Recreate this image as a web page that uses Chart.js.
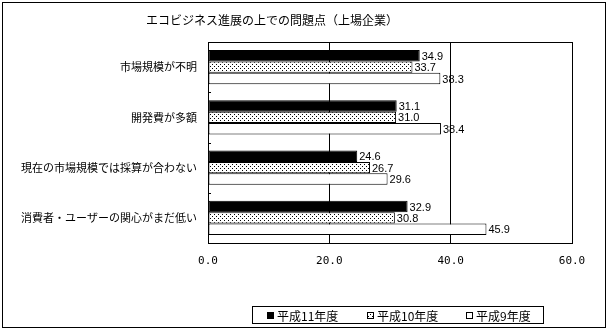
<!DOCTYPE html>
<html>
<head>
<meta charset="utf-8">
<script src="https://cdn.jsdelivr.net/npm/chart.js@4"></script>
<style>
  html, body { margin: 0; padding: 0; background: #fff; }
</style>
</head>
<body>
<canvas id="myChart" width="607" height="332"></canvas>
<script>
const chartTitle = 'エコビジネス進展の上での問題点（上場企業）';
const categories = ['市場規模が不明', '開発費が多額', '現在の市場規模では採算が合わない', '消費者・ユーザーの関心がまだ低い'];
const seriesNames = ['平成11年度', '平成10年度', '平成9年度'];
const h11 = [34.9, 31.1, 24.6, 32.9];
const h10 = [33.7, 31.0, 26.7, 30.8];
const h9 = [38.3, 38.4, 29.6, 45.9];
const xMin = 0, xMax = 60, xStep = 20;

const JP = '"Noto Sans CJK JP", sans-serif';

const canvas = document.getElementById('myChart');
const ctx = canvas.getContext('2d');

// sparse dot fill for the middle series
function dotPattern() {
    const c = document.createElement('canvas');
    c.width = 4; c.height = 4;
    const g = c.getContext('2d');
    g.fillStyle = '#fff';
    g.fillRect(0, 0, 4, 4);
    g.fillStyle = '#000';
    g.fillRect(0, 0, 1, 1);
    g.fillRect(2, 2, 1, 1);
    return ctx.createPattern(c, 'repeat');
}

const fills = ['#000000', dotPattern(), '#ffffff'];

const frame = {
    id: 'frame',
    afterDatasetsDraw(chart) {
        const c = chart.ctx;
        const a = chart.chartArea;
        const y = chart.scales.y;
        c.save();
        c.strokeStyle = '#000';
        c.lineWidth = 1;
        c.beginPath();
        c.moveTo(a.left, a.top + 0.5);
        c.lineTo(a.right, a.top + 0.5);
        // small inward ticks between categories
        for (let i = 1; i < categories.length; i++) {
            const p = Math.round((y.getPixelForValue(i - 1) + y.getPixelForValue(i)) / 2) + 0.5;
            c.moveTo(a.left, p);
            c.lineTo(a.left + 3, p);
        }
        c.stroke();

        // value labels
        c.fillStyle = '#000';
        c.font = '11px "Liberation Sans", Arial, sans-serif';
        c.textBaseline = 'middle';
        c.textAlign = 'left';
        chart.data.datasets.forEach((ds, di) => {
            chart.getDatasetMeta(di).data.forEach((bar, i) => {
                c.fillText(ds.data[i].toFixed(1), bar.x + 2, bar.y + 1);
            });
        });
        c.restore();
    },
    afterDraw(chart) {
        const c = chart.ctx;
        c.save();
        c.strokeStyle = '#000';
        c.lineWidth = 1;
        c.strokeRect(2.5, 2.5, 603, 325);

        c.fillStyle = '#000';
        c.font = '12px ' + JP;
        c.textAlign = 'center';
        c.textBaseline = 'middle';
        c.fillText(chartTitle, 272, 20);

        // legend
        c.strokeRect(252.5, 306.5, 291, 17);
        const lx = [267, 367, 466];
        c.textAlign = 'left';
        chart.data.datasets.forEach((ds, i) => {
            c.fillStyle = ds.backgroundColor;
            c.fillRect(lx[i], 312, 7, 7);
            c.strokeRect(lx[i] + 0.5, 312.5, 6, 6);
            c.fillStyle = '#000';
            c.fillText(ds.label, lx[i] + 10, 316);
        });
        c.restore();
    }
};

new Chart(ctx, {
    type: 'bar',
    data: {
        labels: categories,
        datasets: [h11, h10, h9].map((vals, i) => ({
            label: seriesNames[i],
            data: vals,
            backgroundColor: fills[i],
            borderColor: '#000',
            borderWidth: 1,
            borderSkipped: false,
            categoryPercentage: 0.68,
            barPercentage: 1
        }))
    },
    options: {
        indexAxis: 'y',
        responsive: false,
        animation: false,
        layout: { padding: { top: 42, right: 35, bottom: 59, left: 0 } },
        plugins: {
            legend: { display: false },
            title: { display: false },
            tooltip: { enabled: false }
        },
        scales: {
            x: {
                min: xMin,
                max: xMax,
                ticks: {
                    stepSize: xStep,
                    callback: v => v.toFixed(1),
                    color: '#000',
                    font: { family: '"DejaVu Sans Mono", monospace', size: 11 },
                    padding: 12,
                    maxRotation: 0
                },
                grid: { color: '#000', drawTicks: false },
                border: { color: '#000' },
                afterFit: s => { s.height = 30; }
            },
            y: {
                ticks: {
                    color: '#000',
                    font: { family: JP, size: 11 },
                    padding: 11
                },
                grid: { display: false, drawTicks: false },
                border: { color: '#000' },
                afterFit: s => { s.width = 208; }
            }
        }
    },
    plugins: [frame]
});
</script>
</body>
</html>
